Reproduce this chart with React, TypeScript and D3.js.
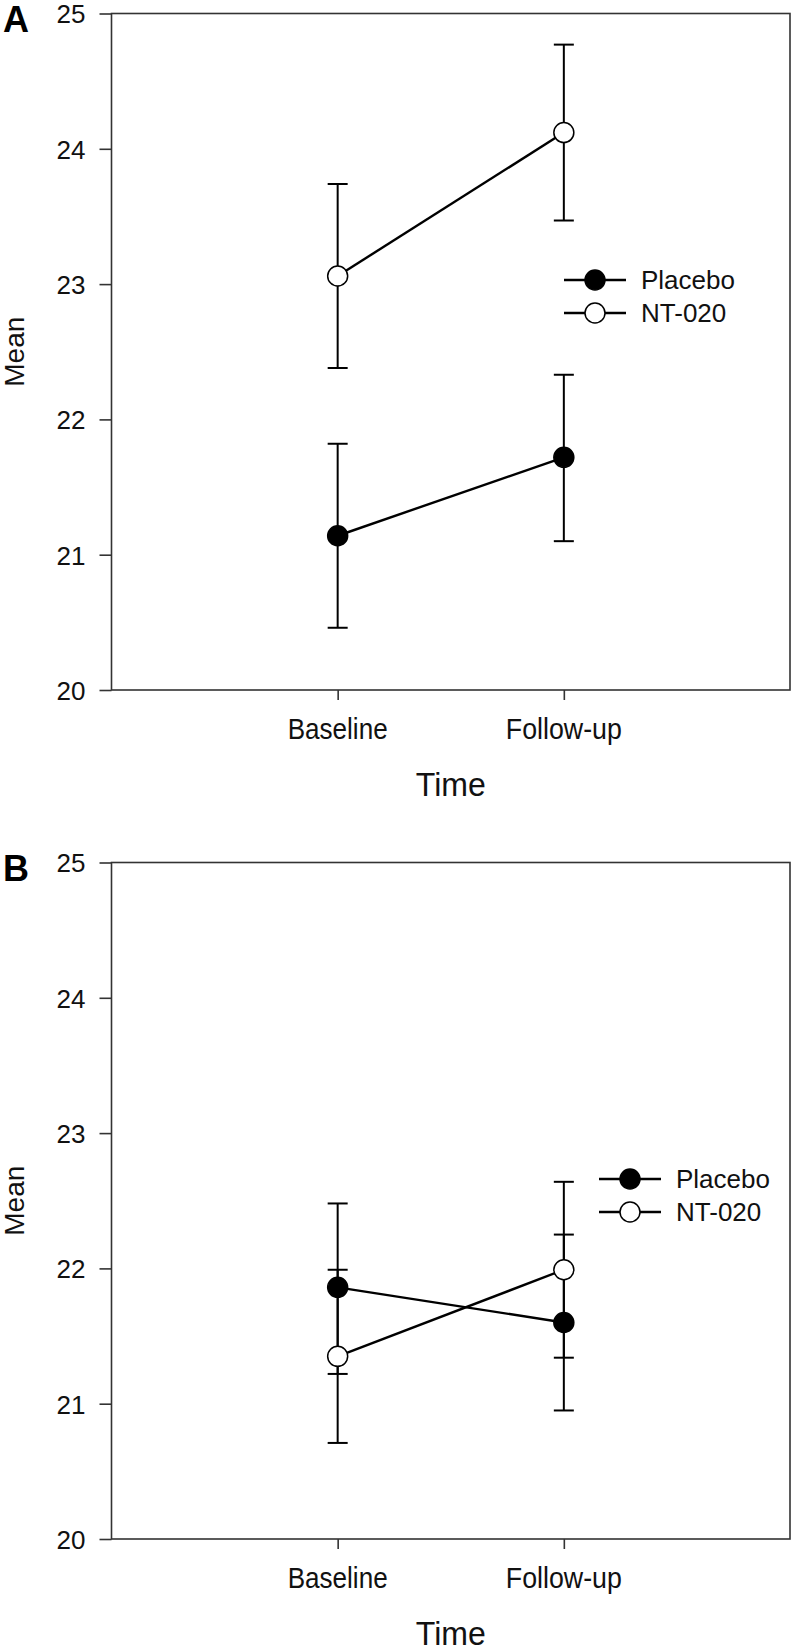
import React, { useEffect, useRef } from "react";
import * as d3 from "d3";

const timepoints = ["Baseline", "Follow-up"];
const seriesNames = ["Placebo", "NT-020"];
const yTicks = [20, 21, 22, 23, 24, 25];

// panel A
const placeboMeanA = [21.14, 21.72];
const placeboLowA = [20.46, 21.1];
const placeboHighA = [21.82, 22.33];
const ntMeanA = [23.06, 24.12];
const ntLowA = [22.38, 23.47];
const ntHighA = [23.74, 24.77];

// panel B
const placeboMeanB = [21.86, 21.6];
const placeboLowB = [21.22, 20.95];
const placeboHighB = [22.48, 22.25];
const ntMeanB = [21.35, 21.99];
const ntLowB = [20.71, 21.34];
const ntHighB = [21.99, 22.64];

const panels = [
  {
    letter: "A",
    top: 13.5,
    legend: { x: 564, y: 280 },
    series: [
      { mean: placeboMeanA, low: placeboLowA, high: placeboHighA, fill: "#000" },
      { mean: ntMeanA, low: ntLowA, high: ntHighA, fill: "#fff" }
    ]
  },
  {
    letter: "B",
    top: 862.5,
    legend: { x: 599, y: 1179 },
    series: [
      { mean: placeboMeanB, low: placeboLowB, high: placeboHighB, fill: "#000" },
      { mean: ntMeanB, low: ntLowB, high: ntHighB, fill: "#fff" }
    ]
  }
];

const W = 792;
const H = 1647;
const plotH = 676.5;
const left = 111.5;
const right = 790;
const font = "'Liberation Sans', Arial, sans-serif";
const narrow = "'Liberation Sans Narrow', 'Liberation Sans', Arial, sans-serif";

export default function App() {
  const ref = useRef<SVGSVGElement>(null);

  useEffect(() => {
    const svg = d3.select(ref.current);
    svg.selectAll("*").remove();

    const x = d3.scaleLinear().domain([0, 3]).range([left, right]);

    panels.forEach(p => {
      const y = d3
        .scaleLinear()
        .domain([20, 25])
        .range([p.top + plotH, p.top]);
      const g = svg.append("g");

      // frame
      g.append("rect")
        .attr("x", left)
        .attr("y", p.top)
        .attr("width", right - left)
        .attr("height", plotH)
        .attr("fill", "none")
        .attr("stroke", "#333")
        .attr("stroke-width", 1.6);

      // y axis
      const yAxis = d3
        .axisLeft(y)
        .tickValues(yTicks)
        .tickSize(12)
        .tickPadding(14)
        .tickFormat(d3.format("d"));
      const ya = g
        .append("g")
        .attr("transform", `translate(${left},0)`)
        .call(yAxis);
      ya.select(".domain").remove();
      ya.selectAll("line").attr("stroke", "#333").attr("stroke-width", 1.6);
      ya.selectAll("text")
        .attr("font-family", font)
        .attr("font-size", 26)
        .attr("fill", "#111")
        .attr("dy", "0.36em");

      // x axis
      const xAxis = d3
        .axisBottom(x)
        .tickValues([1, 2])
        .tickSize(10)
        .tickFormat(() => "");
      const xa = g
        .append("g")
        .attr("transform", `translate(0,${p.top + plotH})`)
        .call(xAxis);
      xa.select(".domain").remove();
      xa.selectAll("line").attr("stroke", "#333").attr("stroke-width", 1.6);

      g.selectAll(".xlab")
        .data(timepoints)
        .enter()
        .append("text")
        .attr("x", (d, i) => x(i + 1))
        .attr("y", p.top + plotH + 49)
        .attr("text-anchor", "middle")
        .attr("font-family", narrow)
        .attr("font-size", 30)
        .attr("textLength", (d, i) => (i === 0 ? 100 : 116))
        .attr("lengthAdjust", "spacingAndGlyphs")
        .attr("fill", "#111")
        .text(d => d);

      g.append("text")
        .attr("x", (left + right) / 2)
        .attr("y", p.top + plotH + 106)
        .attr("text-anchor", "middle")
        .attr("font-family", narrow)
        .attr("font-size", 33)
        .attr("textLength", 70)
        .attr("lengthAdjust", "spacingAndGlyphs")
        .attr("fill", "#111")
        .text("Time");

      g.append("text")
        .attr("transform", `translate(24,${p.top + plotH / 2}) rotate(-90)`)
        .attr("text-anchor", "middle")
        .attr("font-family", font)
        .attr("font-size", 28)
        .attr("fill", "#111")
        .text("Mean");

      g.append("text")
        .attr("x", 3)
        .attr("y", p.top + 18)
        .attr("font-family", font)
        .attr("font-weight", "bold")
        .attr("font-size", 36)
        .attr("fill", "#000")
        .text(p.letter);

      // error bars
      p.series.forEach(s => {
        s.mean.forEach((m, i) => {
          const cx = x(i + 1);
          g.append("line")
            .attr("x1", cx)
            .attr("x2", cx)
            .attr("y1", y(s.low[i]))
            .attr("y2", y(s.high[i]))
            .attr("stroke", "#000")
            .attr("stroke-width", 2);
          [s.low[i], s.high[i]].forEach(v => {
            g.append("line")
              .attr("x1", cx - 10)
              .attr("x2", cx + 10)
              .attr("y1", y(v))
              .attr("y2", y(v))
              .attr("stroke", "#000")
              .attr("stroke-width", 2);
          });
        });
      });

      const line = d3
        .line<number>()
        .x((d, i) => x(i + 1))
        .y(d => y(d));

      p.series.forEach(s => {
        g.append("path")
          .attr("d", line(s.mean))
          .attr("fill", "none")
          .attr("stroke", "#000")
          .attr("stroke-width", 2.4);
      });

      p.series.forEach(s => {
        g.selectAll(null)
          .data(s.mean)
          .enter()
          .append("circle")
          .attr("cx", (d, i) => x(i + 1))
          .attr("cy", d => y(d))
          .attr("r", 10)
          .attr("fill", s.fill)
          .attr("stroke", "#000")
          .attr("stroke-width", 1.5);
      });

      // legend
      const lg = g.append("g");
      seriesNames.forEach((name, i) => {
        const ly = p.legend.y + i * 33;
        lg.append("line")
          .attr("x1", p.legend.x)
          .attr("x2", p.legend.x + 62)
          .attr("y1", ly)
          .attr("y2", ly)
          .attr("stroke", "#000")
          .attr("stroke-width", 2.4);
        lg.append("circle")
          .attr("cx", p.legend.x + 31)
          .attr("cy", ly)
          .attr("r", 10)
          .attr("fill", p.series[i].fill)
          .attr("stroke", "#000")
          .attr("stroke-width", 1.5);
        lg.append("text")
          .attr("x", p.legend.x + 77)
          .attr("y", ly)
          .attr("dy", "0.36em")
          .attr("font-family", font)
          .attr("font-size", 26)
          .attr("fill", "#111")
          .text(name);
      });
    });
  }, []);

  return (
    <svg
      ref={ref}
      width={W}
      height={H}
      style={{ position: "absolute", left: 0, top: 0, background: "#fff" }}
    />
  );
}
